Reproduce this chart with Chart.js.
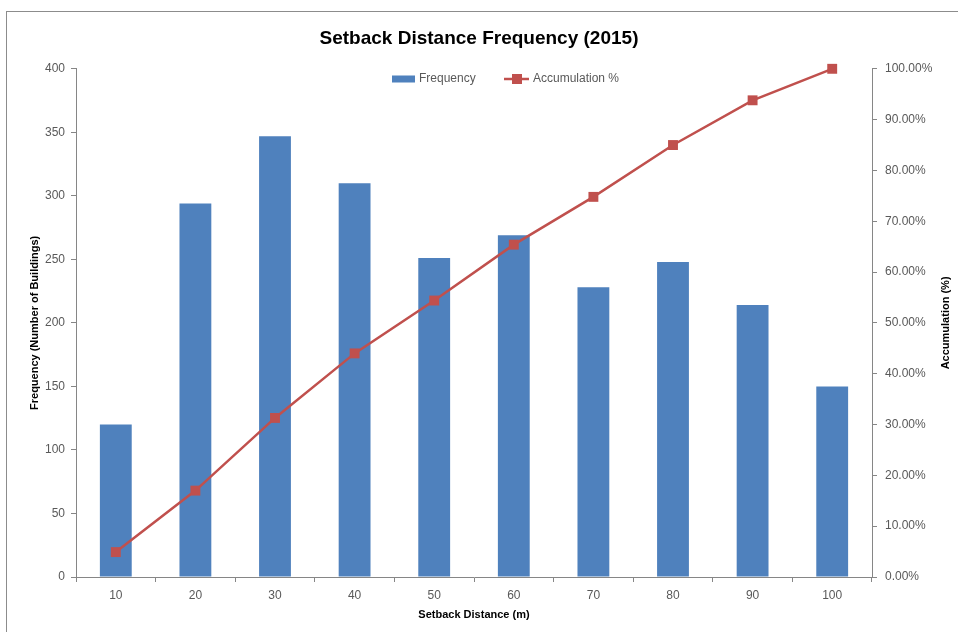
<!DOCTYPE html>
<html>
<head>
<meta charset="utf-8">
<title>Setback Distance Frequency (2015)</title>
<script src="https://cdn.jsdelivr.net/npm/chart.js@4"></script>
<style>
  html, body { margin: 0; padding: 0; background: #fff; }
  #wrap { position: relative; width: 958px; height: 632px; overflow: hidden; }
  #frame { position: absolute; left: 6px; top: 11px; right: -2px; bottom: -2px;
           border-top: 1px solid #8c8c8c; border-left: 1px solid #8c8c8c; }
  #chart { position: absolute; left: 0; top: 0; }
</style>
</head>
<body>
<div id="wrap">
  <div id="frame"></div>
  <canvas id="chart" width="958" height="632"></canvas>
</div>
<script>
// setback distance bins (m)
const distances = ['10', '20', '30', '40', '50', '60', '70', '80', '90', '100'];
// number of buildings in each bin
const frequency = [120, 294, 347, 310, 251, 269, 228, 248, 214, 150];
// running total as a share of all buildings (%)
const accumulation = [4.9, 17.0, 31.3, 44.0, 54.4, 65.4, 74.8, 85.0, 93.8, 100.0];

const FONT = "'Liberation Sans', Arial, sans-serif";
const BLUE = '#4F81BD';
const RED = '#C0504D';
const AXIS = '#868686';
const TEXT = '#595959';

// legend sits inside the plot area, plus the right-hand axis title reading upward
const extras = {
  id: 'extras',
  afterDraw(chart) {
    const ctx = chart.ctx;
    const area = chart.chartArea;
    ctx.save();
    ctx.font = '12px ' + FONT;
    ctx.fillStyle = TEXT;
    ctx.textBaseline = 'middle';

    const y = 79;
    // bar entry
    ctx.fillStyle = BLUE;
    ctx.fillRect(392, y - 3.5, 23, 7);
    ctx.fillStyle = TEXT;
    ctx.fillText(chart.data.datasets[0].label, 419, y);
    // line entry
    ctx.strokeStyle = RED;
    ctx.lineWidth = 2.5;
    ctx.beginPath();
    ctx.moveTo(504, y);
    ctx.lineTo(529, y);
    ctx.stroke();
    ctx.fillStyle = RED;
    ctx.fillRect(512, y - 5, 10, 10);
    ctx.fillStyle = TEXT;
    ctx.fillText(chart.data.datasets[1].label, 533, y);

    // right axis title
    ctx.translate(946, (area.top + area.bottom) / 2);
    ctx.rotate(-Math.PI / 2);
    ctx.textAlign = 'center';
    ctx.font = 'bold 11px ' + FONT;
    ctx.fillStyle = '#000';
    ctx.fillText('Accumulation (%)', 0, 0);
    ctx.restore();
  }
};

new Chart(document.getElementById('chart'), {
  data: {
    labels: distances,
    datasets: [
      {
        type: 'bar',
        label: 'Frequency',
        data: frequency,
        backgroundColor: BLUE,
        barPercentage: 0.4,
        categoryPercentage: 1,
        yAxisID: 'y',
        order: 1
      },
      {
        type: 'line',
        label: 'Accumulation %',
        data: accumulation,
        borderColor: RED,
        backgroundColor: RED,
        borderWidth: 2.5,
        pointStyle: 'rect',
        pointRadius: 7,
        pointBorderWidth: 0,
        tension: 0,
        clip: false,
        yAxisID: 'y1',
        order: 0
      }
    ]
  },
  options: {
    responsive: false,
    animation: false,
    layout: { padding: 0 },
    plugins: {
      legend: { display: false },
      tooltip: { enabled: false },
      title: {
        display: true,
        text: 'Setback Distance Frequency (2015)',
        color: '#000',
        font: { family: FONT, size: 19, weight: 'bold', lineHeight: 1.2 },
        padding: { top: 27, bottom: 19 }
      }
    },
    scales: {
      x: {
        offset: true,
        afterFit: (s) => { s.height = 55; },
        grid: { offset: true, drawOnChartArea: false, color: AXIS, tickLength: 5 },
        border: { color: AXIS },
        ticks: { color: TEXT, font: { family: FONT, size: 12 }, padding: 6 },
        title: {
          display: true,
          text: 'Setback Distance (m)',
          color: '#000',
          font: { family: FONT, size: 11, weight: 'bold' },
          padding: { top: 4, bottom: 10 }
        }
      },
      y: {
        position: 'left',
        min: 0,
        max: 400,
        afterFit: (s) => { s.width = 76; },
        grid: { drawOnChartArea: false, color: AXIS, tickLength: 5 },
        border: { color: AXIS },
        ticks: { stepSize: 50, color: TEXT, font: { family: FONT, size: 12 }, padding: 6 },
        title: {
          display: true,
          text: 'Frequency (Number of Buildings)',
          color: '#000',
          font: { family: FONT, size: 11, weight: 'bold' },
          padding: { top: 28, bottom: 0 }
        }
      },
      y1: {
        position: 'right',
        min: 0,
        max: 100,
        afterFit: (s) => { s.width = 86; },
        grid: { drawOnChartArea: false, color: AXIS, tickLength: 5 },
        border: { color: AXIS },
        ticks: {
          stepSize: 10,
          color: TEXT,
          font: { family: FONT, size: 12 },
          padding: 8,
          callback: (v) => v.toFixed(2) + '%'
        }
      }
    }
  },
  plugins: [extras]
});
</script>
</body>
</html>
